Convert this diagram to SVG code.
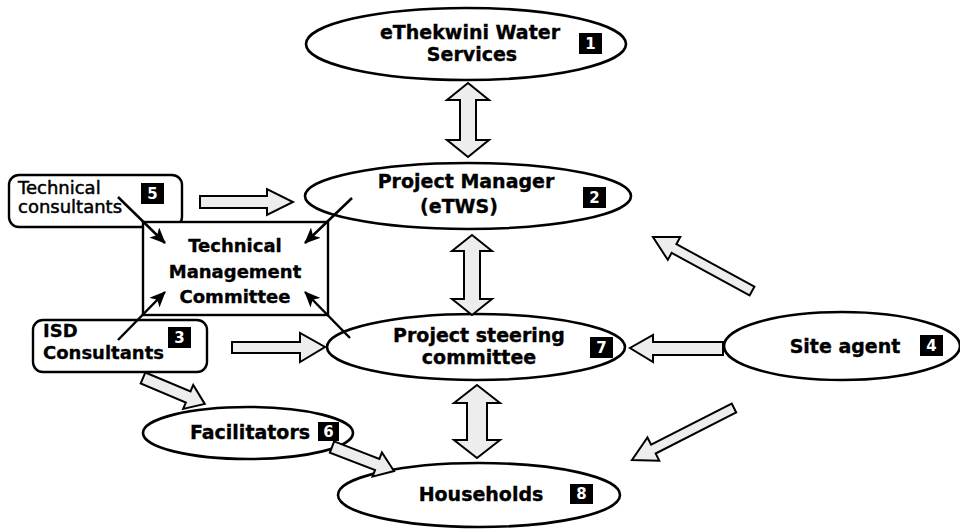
<svg xmlns="http://www.w3.org/2000/svg" width="960" height="529" viewBox="0 0 960 529">
<style>
.ell{fill:#fff;stroke:#000;stroke-width:2.6}
.box{fill:#fff;stroke:#000;stroke-width:2.4}
.blk{fill:#ededed;stroke:#000;stroke-width:2}
.thin{stroke:#000;stroke-width:2.5;fill:none;marker-end:url(#ah)}
.t{font-family:"DejaVu Sans",Verdana,sans-serif;font-weight:bold;font-size:19px;fill:#000;stroke:#000;stroke-width:0.35;text-anchor:middle}
.tm{font-size:18px}
.tl{font-family:"DejaVu Sans",Verdana,sans-serif;font-size:18px;fill:#000}
.badge{fill:#000}
.bn{font-family:"DejaVu Sans",Verdana,sans-serif;font-weight:bold;font-size:15px;fill:#fff;text-anchor:middle}
</style>
<defs>
<marker id="ah" viewBox="0 0 16 14" refX="15" refY="7" markerWidth="16" markerHeight="14" markerUnits="userSpaceOnUse" orient="auto">
<path d="M0,0 L16,7 L0,14 L4,7 Z" fill="#000"/>
</marker>
</defs>
<rect width="960" height="529" fill="#fff"/>

<g id="n5">
<rect class="box" x="9" y="175" width="173" height="52" rx="10"/>
<text class="tl" x="18" y="194" stroke="#000" stroke-width="0.5">Technical</text>
<text class="tl" x="18" y="213" stroke="#000" stroke-width="0.5">consultants</text>
<rect class="badge" x="141" y="183" width="23" height="21"/>
<text class="bn" x="152.5" y="199">5</text>
</g>

<g id="tmc">
<rect class="box" x="143" y="222" width="185" height="93"/>
<text class="t tm" x="235" y="252">Technical</text>
<text class="t tm" x="235" y="278">Management</text>
<text class="t tm" x="235" y="303">Committee</text>
</g>

<g id="n3">
<rect class="box" x="33" y="320" width="174" height="52" rx="10"/>
<text class="tl" x="43" y="337" font-weight="bold" stroke="#000" stroke-width="0.3">ISD</text>
<text class="tl" x="43" y="359" font-weight="bold" stroke="#000" stroke-width="0.3">Consultants</text>
<rect class="badge" x="168" y="327" width="23" height="21"/>
<text class="bn" x="179.5" y="343">3</text>
</g>

<g id="n1">
<ellipse class="ell" cx="466" cy="44" rx="160" ry="36"/>
<text class="t" x="470" y="39">eThekwini Water</text>
<text class="t" x="472" y="61">Services</text>
<rect class="badge" x="579" y="33" width="23" height="21"/>
<text class="bn" x="590.5" y="49">1</text>
</g>

<g id="n2">
<ellipse class="ell" cx="468" cy="196" rx="163" ry="33"/>
<text class="t" x="466" y="188">Project Manager</text>
<text class="t" x="459" y="213">(eTWS)</text>
<rect class="badge" x="583" y="187" width="23" height="21"/>
<text class="bn" x="594.5" y="203">2</text>
</g>

<g id="n7">
<ellipse class="ell" cx="476" cy="347" rx="149" ry="33"/>
<text class="t" x="479" y="342">Project steering</text>
<text class="t" x="479" y="364">committee</text>
<rect class="badge" x="590" y="337" width="23" height="21"/>
<text class="bn" x="601.5" y="353">7</text>
</g>

<g id="n4">
<ellipse class="ell" cx="842" cy="346" rx="118" ry="34"/>
<text class="t" x="845" y="353" font-size="20">Site agent</text>
<rect class="badge" x="920" y="335" width="23" height="21"/>
<text class="bn" x="931.5" y="351">4</text>
</g>

<g id="n6">
<ellipse class="ell" cx="248" cy="433" rx="105" ry="26"/>
<text class="t" x="250" y="439" font-size="20">Facilitators</text>
<rect class="badge" x="318" y="422" width="21" height="19"/>
<text class="bn" x="328.5" y="437">6</text>
</g>

<g id="n8">
<ellipse class="ell" cx="479" cy="495" rx="141" ry="32"/>
<text class="t" x="481" y="501" font-size="20">Households</text>
<rect class="badge" x="570" y="484" width="23" height="20"/>
<text class="bn" x="581.5" y="499">8</text>
</g>

<g id="connectors">
<polygon class="blk" points="468,83 489,100 476,100 476,140 489,140 468,157 447,140 460,140 460,100 447,100"/>
<polygon class="blk" points="472,235 492,251 480,251 480,299 492,299 472,315 452,299 464,299 464,251 452,251"/>
<polygon class="blk" points="477,385 500,403 487,403 487,440 500,440 477,458 454,440 467,440 467,403 454,403"/>
<polygon class="blk" points="200,196 267,196 267,189 293,202 267,215 267,208 200,208"/>
<polygon class="blk" points="232,342 300,342 300,333 325,347 300,362 300,353 232,353"/>
<polygon class="blk" points="723,342 653,342 653,335 630,348 653,362 653,355 723,355"/>
<g transform="translate(143,378) rotate(22.75)"><polygon class="blk" points="0,-6 49,-6 49,-13 67,0 49,13 49,6 0,6"/></g>
<g transform="translate(332,447) rotate(21.2)"><polygon class="blk" points="0,-6 48.5,-6 48.5,-13 66.5,0 48.5,13 48.5,6 0,6"/></g>
<g transform="translate(752,291) rotate(208.6)"><polygon class="blk" points="0,-5 88.8,-5 88.8,-13 112.8,0 88.8,13 88.8,5 0,5"/></g>
<g transform="translate(734,408) rotate(153)"><polygon class="blk" points="0,-5 90.5,-5 90.5,-13 114.5,0 90.5,13 90.5,5 0,5"/></g>
<line class="thin" x1="118" y1="197" x2="165" y2="243"/>
<line class="thin" x1="352" y1="198" x2="305" y2="243"/>
<line class="thin" x1="118" y1="340" x2="165" y2="292"/>
<line class="thin" x1="350" y1="338" x2="305" y2="292"/>
</g>
</svg>
